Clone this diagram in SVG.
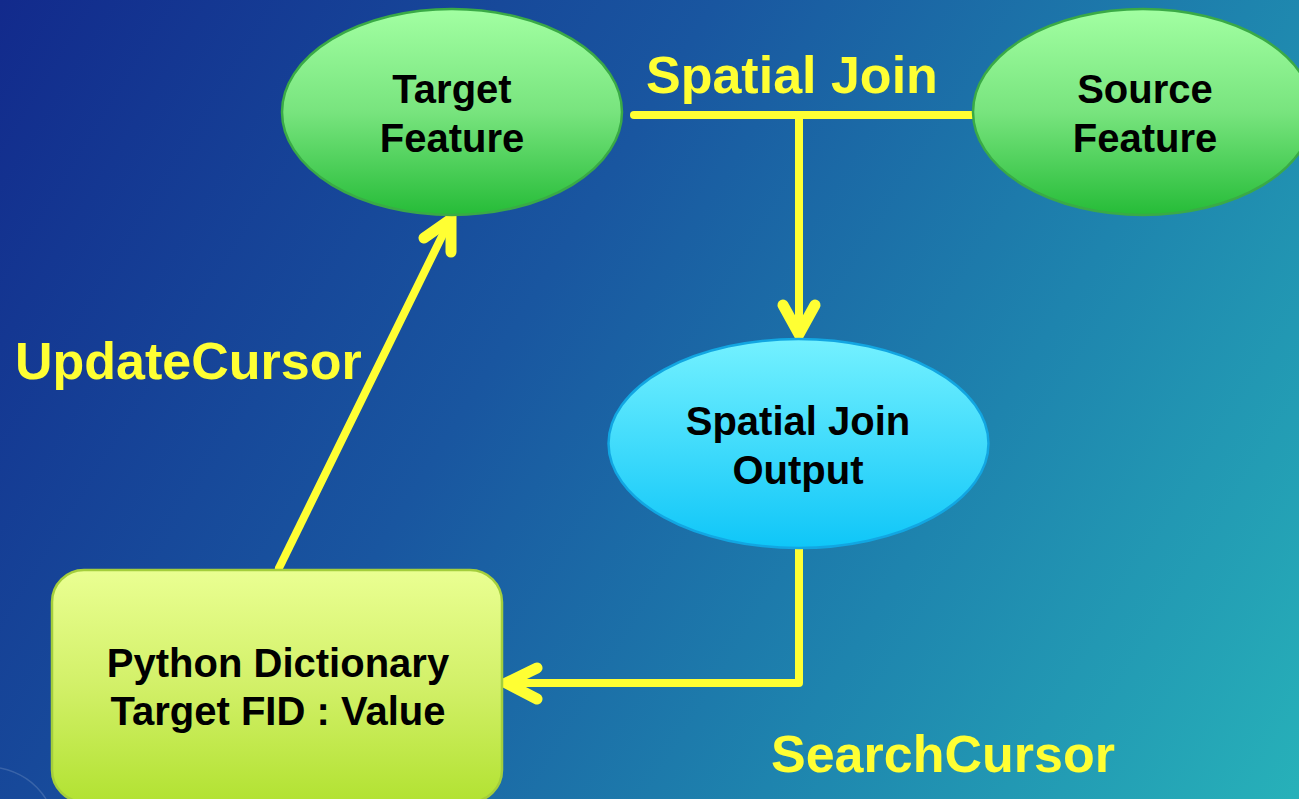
<svg xmlns="http://www.w3.org/2000/svg" width="1299" height="799" viewBox="0 0 1299 799">
  <defs>
    <linearGradient id="bg" x1="0" y1="0" x2="1299" y2="799" gradientUnits="userSpaceOnUse">
      <stop offset="0" stop-color="#122A8C"/>
      <stop offset="0.4" stop-color="#1956A0"/>
      <stop offset="0.7" stop-color="#1E84AE"/>
      <stop offset="1" stop-color="#27B1B9"/>
    </linearGradient>
    <linearGradient id="green" x1="0" y1="0" x2="0" y2="1">
      <stop offset="0" stop-color="#A2FFA2"/>
      <stop offset="0.5" stop-color="#78E47E"/>
      <stop offset="1" stop-color="#26BC38"/>
    </linearGradient>
    <linearGradient id="cyan" x1="0" y1="0" x2="0" y2="1">
      <stop offset="0" stop-color="#74F1FF"/>
      <stop offset="1" stop-color="#0FC6F8"/>
    </linearGradient>
    <linearGradient id="lime" x1="0" y1="0" x2="0" y2="1">
      <stop offset="0" stop-color="#EAFF92"/>
      <stop offset="0.5" stop-color="#D2F068"/>
      <stop offset="1" stop-color="#B2E232"/>
    </linearGradient>
    <style>
      .node-text { font-family: "Liberation Sans", Arial, sans-serif; font-weight: bold; font-size: 40px; fill: #000; text-anchor: middle; }
      .label { font-family: "Liberation Sans", Arial, sans-serif; font-weight: bold; font-size: 52px; fill: #FFFF33; }
      .wire { fill: none; stroke: #FFFF33; stroke-width: 8; stroke-linecap: round; stroke-linejoin: round; }
      .head { fill: none; stroke: #FFFF33; stroke-width: 11; stroke-linecap: round; stroke-linejoin: miter; }
      .green { fill: url(#green); stroke: #3AAA46; stroke-width: 2.5; }
    </style>
  </defs>

  <!-- backdrop -->
  <rect x="0" y="0" width="1299" height="799" fill="url(#bg)"/>
  <path d="M0,768 Q30,774 46,799" fill="none" stroke="#FFFFFF" stroke-opacity="0.15" stroke-width="1.5"/>

  <!-- connectors -->
  <g id="connectors">
    <path class="wire" d="M634,115 H975"/>
    <path class="wire" d="M799,115 V332"/>
    <path class="head" d="M783,305 L799,334 L815,305"/>
    <path class="wire" d="M799,548 V683 H508"/>
    <path class="head" d="M537,668 L506,683 L537,699"/>
    <path class="wire" d="M279,568 L449,222"/>
    <path class="head" d="M424,238 L451,219 L451,252"/>
  </g>

  <!-- edge labels -->
  <text class="label" x="646" y="93">Spatial Join</text>
  <text class="label" x="15" y="379">UpdateCursor</text>
  <text class="label" x="771" y="772">SearchCursor</text>

  <g id="target-feature">
    <ellipse class="green" cx="452" cy="112" rx="170" ry="103"/>
    <text class="node-text" x="452" y="103">Target</text>
    <text class="node-text" x="452" y="152">Feature</text>
  </g>

  <g id="source-feature">
    <ellipse class="green" cx="1143" cy="112" rx="170" ry="103"/>
    <text class="node-text" x="1145" y="103">Source</text>
    <text class="node-text" x="1145" y="152">Feature</text>
  </g>

  <g id="spatial-join-output">
    <ellipse cx="798.5" cy="443.5" rx="190" ry="104.5" fill="url(#cyan)" stroke="#12A6E2" stroke-width="2.5"/>
    <text class="node-text" x="798" y="435">Spatial Join</text>
    <text class="node-text" x="798" y="484">Output</text>
  </g>

  <g id="python-dictionary">
    <rect x="52" y="570" width="450" height="232" rx="32" ry="32" fill="url(#lime)" stroke="#A4CE3C" stroke-width="2.5"/>
    <text class="node-text" x="278" y="677">Python Dictionary</text>
    <text class="node-text" x="278" y="725">Target FID : Value</text>
  </g>
</svg>
